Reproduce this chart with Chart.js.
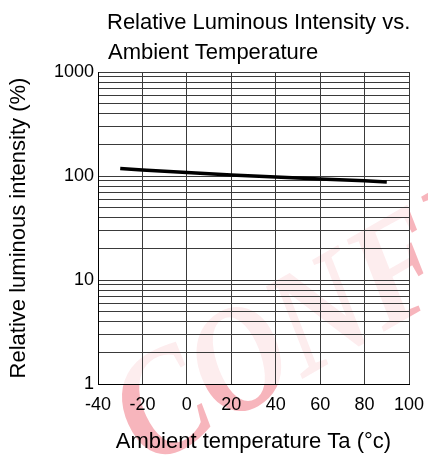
<!DOCTYPE html>
<html>
<head>
<meta charset="utf-8">
<script src="https://cdn.jsdelivr.net/npm/chart.js@4"></script>
<style>
  html, body { margin: 0; padding: 0; background: #fff; }
  #wrap { width: 428px; height: 455px; position: relative; }
</style>
</head>
<body>
<div id="wrap"><canvas id="tempChart"></canvas></div>
<script>
// data
var temps = [-30, -20, 0, 20, 40, 60, 80, 90];
var intensity = [118, 114, 108, 102, 98, 93.5, 90, 87.5];

// axis ticks
var xTicks = [-40, -20, 0, 20, 40, 60, 80, 100];
var yTickLabels = [1, 10, 100, 1000];
var yGridLines = [1, 2, 3, 4, 5, 6, 7, 8, 9,
                  10, 20, 30, 40, 50, 60, 70, 80, 90,
                  100, 200, 300, 400, 500, 600, 700, 800, 900, 1000];

var titleLines = ['Relative Luminous Intensity vs.', 'Ambient Temperature'];

var FONT = "'Liberation Sans', Arial, sans-serif";

// background watermark + plot area fill, title on top
var backdrop = {
    id: 'backdrop',
    beforeDraw: function (chart) {
        var ctx = chart.ctx;
        var area = chart.chartArea;
        ctx.save();
        ctx.translate(148, 468);
        ctx.rotate(-30 * Math.PI / 180);
        ctx.scale(0.86, 1);
        ctx.font = "italic bold 150px 'Liberation Serif', serif";
        ctx.fillStyle = 'rgba(234, 70, 88, 0.4)';
        ctx.textBaseline = 'alphabetic';
        ctx.fillText('CONFIDENTIAL', 0, 0);
        ctx.restore();

        ctx.save();
        ctx.fillStyle = 'rgba(255, 255, 255, 0.75)';
        ctx.fillRect(area.left, area.top, area.right - area.left, area.bottom - area.top);
        ctx.restore();
    },
    afterDraw: function (chart) {
        var ctx = chart.ctx;
        ctx.save();
        ctx.font = '22px ' + FONT;
        ctx.fillStyle = '#000';
        ctx.textAlign = 'left';
        ctx.textBaseline = 'alphabetic';
        ctx.fillText(titleLines[0], 107, 29);
        ctx.fillText(titleLines[1], 108, 59);
        ctx.restore();
    }
};

var ctxTemp = document.getElementById('tempChart').getContext('2d');
var tempChart = new Chart(ctxTemp, {
    type: 'line',
    data: {
        datasets: [{
            label: 'Relative luminous intensity',
            data: temps.map(function (t, i) { return { x: t, y: intensity[i] }; }),
            borderColor: '#000',
            borderWidth: 3.5,
            pointRadius: 0,
            tension: 0,
            fill: false
        }]
    },
    options: {
        responsive: true,
        maintainAspectRatio: false,
        animation: false,
        layout: { padding: { top: 72, right: 19, left: 0, bottom: 0 } },
        plugins: {
            legend: { display: false },
            title: { display: false },
            tooltip: { enabled: false }
        },
        scales: {
            x: {
                type: 'linear',
                min: -40,
                max: 100,
                afterFit: function (scale) {
                    scale.height = 71;
                    scale.paddingLeft = 0;
                    scale.paddingRight = 0;
                },
                afterBuildTicks: function (scale) {
                    scale.ticks = xTicks.map(function (v) { return { value: v }; });
                },
                ticks: {
                    autoSkip: false,
                    maxRotation: 0,
                    padding: 10,
                    color: '#000',
                    font: { family: FONT, size: 18 }
                },
                grid: { color: '#3a3a3a', lineWidth: 1, drawTicks: false },
                border: { color: '#000', width: 1 },
                title: {
                    display: true,
                    text: 'Ambient temperature Ta (°c)',
                    color: '#000',
                    font: { family: FONT, size: 22 },
                    padding: { top: 0, bottom: 0 }
                }
            },
            y: {
                type: 'logarithmic',
                min: 1,
                max: 1000,
                afterFit: function (scale) {
                    scale.width = 98;
                    scale.paddingTop = 0;
                    scale.paddingBottom = 0;
                },
                afterBuildTicks: function (scale) {
                    scale.ticks = yGridLines.map(function (v) { return { value: v }; });
                },
                ticks: {
                    autoSkip: false,
                    padding: 4,
                    color: '#000',
                    font: { family: FONT, size: 18 },
                    callback: function (value) {
                        return yTickLabels.indexOf(value) >= 0 ? String(value) : '';
                    }
                },
                grid: { color: '#3a3a3a', lineWidth: 1, drawTicks: false },
                border: { color: '#000', width: 1 },
                title: {
                    display: true,
                    text: 'Relative luminous intensity (%)',
                    color: '#000',
                    font: { family: FONT, size: 22 },
                    padding: { top: 6, bottom: 0 }
                }
            }
        }
    },
    plugins: [backdrop]
});
</script>
</body>
</html>
